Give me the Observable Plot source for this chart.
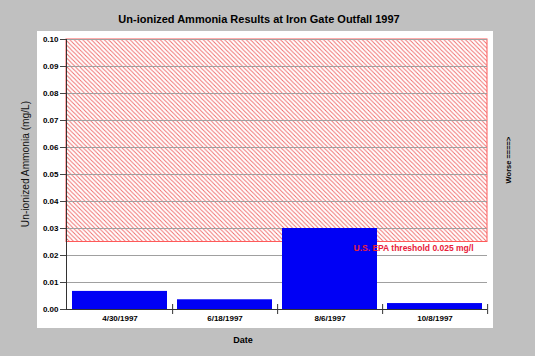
<!DOCTYPE html>
<html>
<head>
<meta charset="utf-8">
<script src="https://cdn.jsdelivr.net/npm/d3@7"></script>
<script src="https://cdn.jsdelivr.net/npm/@observablehq/plot@0.6"></script>
<style>
  body { margin: 0; background: #c0c0c0; }
  #wrap { position: relative; width: 535px; height: 356px; background: #c0c0c0; overflow: hidden; font-family: "Liberation Sans", Arial, sans-serif; }
  #panel { position: absolute; left: 37px; top: 31px; width: 456px; height: 297px; background: #ffffff; }
  #chart { position: absolute; left: 0; top: 0; }
  .lbl { position: absolute; white-space: nowrap; color: #000; }
</style>
</head>
<body>
<div id="wrap">
  <div id="panel"></div>
  <div id="chart"></div>
  <div class="lbl" id="title" style="left:259px;top:18.5px;transform:translate(-50%,-50%);font-size:11px;font-weight:bold;">Un-ionized Ammonia Results at Iron Gate Outfall 1997</div>
  <div class="lbl" id="ylab" style="left:25px;top:164px;transform:translate(-50%,-50%) rotate(-90deg);font-size:10.2px;color:#111;">Un-ionized Ammonia (mg/L)</div>
  <div class="lbl" id="xlab" style="left:243px;top:340px;transform:translate(-50%,-50%);font-size:9px;font-weight:bold;">Date</div>
  <div class="lbl" id="worse" style="left:508px;top:160px;transform:translate(-50%,-50%) rotate(-90deg);font-size:7.5px;font-weight:bold;">Worse ====&gt;</div>
</div>
<script>
const dates = ["4/30/1997", "6/18/1997", "8/6/1997", "10/8/1997"];
const values = [0.0067, 0.0036, 0.030, 0.0022];
const yTicks = [0, 0.01, 0.02, 0.03, 0.04, 0.05, 0.06, 0.07, 0.08, 0.09, 0.10];
const threshold = 0.025;
const thresholdLabel = "U.S. EPA threshold 0.025 mg/l";

const data = dates.map((d, i) => ({date: d, value: values[i]}));

const W = 535, H = 356, ML = 66, MR = 48, MT = 39, MB = 47;
const padIn = 0.1, padOut = 0.05;
const step = (W - ML - MR) / (dates.length - padIn + 2 * padOut);

const plot = Plot.plot({
  width: W, height: H,
  marginLeft: ML, marginRight: MR, marginTop: MT, marginBottom: MB,
  style: {background: "transparent", fontFamily: "'Liberation Sans', Arial, sans-serif", fontSize: "8px", fontWeight: "bold", color: "#000"},
  x: {type: "band", domain: dates, paddingInner: padIn, paddingOuter: padOut},
  y: {domain: [0, 0.1]},
  marks: [
    Plot.rect([threshold], {y1: threshold, y2: yTicks[yTicks.length - 1], fill: "url(#hatch)", stroke: "#ff5a5a", strokeWidth: 1}),
    Plot.ruleY(yTicks.slice(1), {stroke: "#a0a0a0", strokeWidth: 1}),
    Plot.barY(data, {x: "date", y: "value", fill: "#0000f5"}),
    Plot.axisY({ticks: yTicks, tickFormat: d3.format(".2f"), tickSize: 6, tickPadding: 2, label: null, fontSize: 8, fontWeight: "bold", stroke: "#444"}),
    Plot.axisX({tickSize: 0, tickPadding: 6, label: null, fontSize: 8, fontWeight: "bold"}),
    Plot.ruleY([0], {stroke: "#333"}),
    Plot.frame({anchor: "left", stroke: "#333"}),
    Plot.ruleX(dates, {x: d => d, dx: step / 2, y1: 0, y2: 0, insetTop: -5, insetBottom: -5, stroke: "#333"}),
    Plot.text([thresholdLabel], {frameAnchor: "right", y: threshold, dx: -14, dy: 6, text: d => d, textAnchor: "end", fill: "#e8203a", fontSize: 8.5, fontWeight: "bold"})
  ]
});

// hatch pattern definition
const ns = "http://www.w3.org/2000/svg";
const defs = document.createElementNS(ns, "defs");
defs.innerHTML = `<pattern id="hatch" patternUnits="userSpaceOnUse" width="4.3" height="4.3">
  <rect width="4.3" height="4.3" fill="#ffffff"/>
  <path d="M-1,-1 L5.3,5.3 M-1,3.3 L1,5.3 M3.3,-1 L5.3,1" stroke="#f06a6a" stroke-width="0.9"/>
</pattern>`;
plot.insertBefore(defs, plot.firstChild);
document.getElementById("chart").appendChild(plot);
</script>
</body>
</html>
